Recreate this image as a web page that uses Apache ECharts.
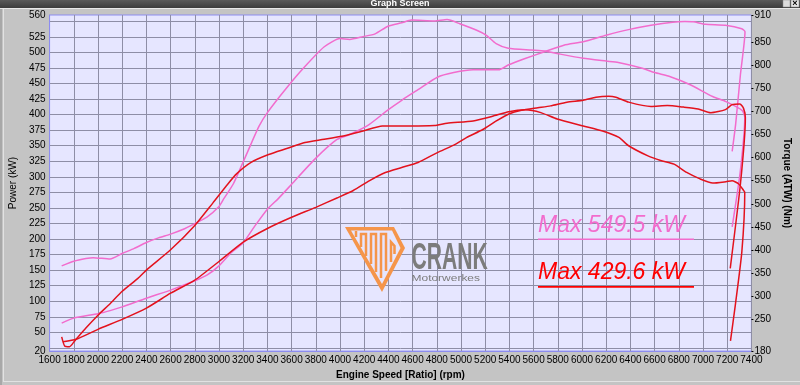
<!DOCTYPE html>
<html>
<head>
<meta charset="utf-8">
<script src="https://cdn.jsdelivr.net/npm/echarts@6/dist/echarts.min.js"></script>
<style>
html,body{margin:0;padding:0;background:#c4c4c4;}
#c{width:800px;height:385px;}
</style>
</head>
<body>
<div id="c"></div>
<script>
// ---- data (rpm, value) ----
var pinkPower = [[1700,65],[1800,73],[2000,80],[2100,85],[2200,91],[2400,105],[2600,118],[2800,133],[2900,142],[3000,157],[3100,178],[3200,194],[3300,222],[3400,248],[3490,265],[3600,288],[3790,328],[3975,360],[4080,368],[4240,384],[4400,408],[4510,423],[4645,440],[4805,460],[4940,467.5],[5100,472],[5310,472],[5395,480],[5530,490],[5690,501],[5850,511.5],[6010,517],[6200,527.5],[6385,536.5],[6570,543.5],[6750,548.5],[6850,549.5],[6920,549],[7020,545],[7185,543.5],[7320,538],[7347,533],[7309,464],[7270,385],[7241,341]];
var pinkTorque = [[1700,365],[1800,375],[1900,381],[1960,383],[2100,380],[2200,392],[2300,403],[2400,416],[2500,426],[2600,434],[2700,444],[2800,457],[2900,471],[3000,494],[3040,511],[3120,544],[3240,615],[3330,668],[3400,698],[3560,752],[3710,798],[3870,841],[4000,859],[4080,857],[4190,863],[4290,869],[4400,886],[4510,893],[4590,899],[4780,897],[4885,900],[4990,891],[5130,877],[5210,866],[5290,848],[5390,838],[5580,834],[5690,832],[5820,825],[6010,816],[6200,810],[6300,807],[6490,795],[6600,785],[6730,776],[6890,759],[7080,733],[7190,722],[7323,703],[7345,688],[7307,568],[7241,450]];
var redPower = [[1711,35],[1820,39],[2000,55],[2200,71],[2400,89],[2600,113],[2800,134],[3000,164],[3200,195],[3400,217],[3600,235],[3800,251],[3975,266],[4110,278],[4245,294],[4375,307],[4510,315],[4645,323],[4805,339],[4940,351],[5045,363],[5180,376],[5285,389],[5395,401],[5500,407],[5635,411],[5740,414],[5875,420],[6010,423],[6115,428],[6220,429.6],[6280,428],[6385,420],[6570,413],[6705,414.5],[6840,412],[6960,409],[7065,403],[7185,408],[7240,416],[7305,417],[7335,410],[7350,395],[7310,290],[7225,153]];
var redTorque = [[1700,211],[1725,191],[1765,189.5],[1806,201.6],[1900,230],[2000,258],[2100,283],[2200,310],[2330,338],[2400,356],[2600,400],[2800,453],[2950,502],[3070,542],[3145,565],[3265,590],[3410,607],[3560,620],[3710,633],[3870,640],[4055,649],[4190,658],[4350,669],[4510,669],[4780,670],[4885,675],[5100,680],[5260,690],[5395,700],[5530,704],[5660,698],[5795,684],[6010,669],[6170,658],[6305,644],[6385,626],[6545,604],[6650,594],[6760,586],[6865,568],[6975,554],[7080,545],[7190,548],[7240,550],[7295,543],[7335,529],[7345,525],[7321,396],[7267,280],[7227,202]];
var powerLabels = [20,50,75,100,125,150,175,200,225,250,275,300,325,350,375,400,425,450,475,500,525,560];
var powerGrid = [25,50,75,100,125,150,175,200,225,250,275,300,325,350,375,400,425,450,475,500,525,550];
var torqueLabels = [180,250,300,350,400,450,500,550,600,650,700,750,800,850,910];
var maxPink = 'Max 549.5 kW';
var maxRed = 'Max 429.6 kW';

var FONT = 'Liberation Sans, Arial, sans-serif';
var PINK = '#f26ccd';
var RED = '#e3121d';
var ORANGE = '#f5954a';

var chart = echarts.init(document.getElementById('c'), null, {renderer:'canvas'});

function line(data, color, yi, z){
  return {type:'line', data:data, yAxisIndex:yi, showSymbol:false, smooth:0.2, z:z,
    lineStyle:{color:color, width:1.5}, itemStyle:{color:color}, animation:false};
}
function plain(v){ return String(v); }

var option = {
  backgroundColor:'#c4c4c4',
  animation:false,
  grid:{left:38, right:40, top:15, bottom:31.5, show:true, backgroundColor:'#e6e6ff', borderColor:'#8c8cf0', borderWidth:1},
  xAxis:{type:'value', min:1600, max:7400, interval:200,
    axisLine:{show:true, lineStyle:{color:'#8c8cf0'}},
    axisTick:{show:false},
    axisLabel:{fontSize:10, color:'#000', margin:4, fontFamily:FONT, showMinLabel:true, showMaxLabel:true, hideOverlap:false, formatter:plain},
    splitLine:{show:true, lineStyle:{color:'#8e8ea6', width:1}},
    name:'Engine Speed [Ratio] (rpm)', nameLocation:'middle', nameGap:16,
    nameTextStyle:{fontSize:10, fontWeight:'bold', color:'#000', fontFamily:FONT}
  },
  yAxis:[
    {type:'value', position:'left', min:20, max:560,
     axisLine:{show:true, lineStyle:{color:'#8c8cf0'}},
     axisTick:{show:false, customValues:powerGrid},
     axisLabel:{fontSize:10, color:'#000', margin:4, fontFamily:FONT, customValues:powerLabels, formatter:plain},
     splitLine:{show:true, lineStyle:{color:'#8e8ea6', width:1}},
     name:'Power (kW)', nameLocation:'middle', nameGap:26,
     nameTextStyle:{fontSize:10, color:'#000', fontFamily:FONT}
    },
    {type:'value', position:'right', min:180, max:910,
     axisLine:{show:false},
     axisTick:{show:true, length:2, lineStyle:{color:'#000'}, customValues:torqueLabels},
     axisLabel:{fontSize:10, color:'#000', margin:3, fontFamily:FONT, customValues:torqueLabels, formatter:plain},
     splitLine:{show:false},
     name:'Torque (ATW) (Nm)', nameLocation:'middle', nameRotate:-90, nameGap:26,
     nameTextStyle:{fontSize:10, fontWeight:'bold', color:'#000', fontFamily:FONT}
    }
  ],
  series:[
    line(pinkTorque, PINK, 1, 3),
    line(pinkPower, PINK, 0, 3),
    line(redTorque, RED, 1, 4),
    line(redPower, RED, 0, 4)
  ],
  graphic:[
    // window frame
    {type:'rect', shape:{x:0,y:9,width:2,height:376}, style:{fill:'#a8a8a8'}, z:1},
    {type:'rect', shape:{x:3,y:9,width:1,height:372}, style:{fill:'#e2e2e2'}, z:1},
    {type:'rect', shape:{x:3,y:381,width:797,height:1}, style:{fill:'#e2e2e2'}, z:1},
    // window title bar
    {type:'rect', shape:{x:0,y:0,width:800,height:8}, style:{fill:new echarts.graphic.LinearGradient(0,0,0,1,[{offset:0,color:'#5a5a5a'},{offset:1,color:'#3c3c3c'}])}, z:10},
    {type:'rect', shape:{x:0,y:8,width:800,height:1}, style:{fill:'#e8e8e8'}, z:10},
    {type:'text', x:400, y:4, style:{text:'Graph Screen', fill:'#fff', font:'bold 9px '+FONT, textAlign:'center', textVerticalAlign:'middle'}, z:11},
    {type:'rect', shape:{x:783,y:0,width:7,height:7}, style:{fill:'#dcdcdc', stroke:'#888', lineWidth:0.5}, z:11},
    {type:'rect', shape:{x:791,y:0,width:8,height:7}, style:{fill:'#e8e8e8', stroke:'#888', lineWidth:0.5}, z:11},
    {type:'text', x:795, y:3.5, style:{text:'×', fill:'#000', font:'bold 9px '+FONT, textAlign:'center', textVerticalAlign:'middle'}, z:12},
    // logo
    {type:'polygon', shape:{points:[[345,227],[394,227],[405,248],[382,292]]}, style:{fill:ORANGE}, z:5},
    {type:'polygon', shape:{points:[[351,230.5],[392,230.5],[400.5,248],[382,284]]}, style:{fill:'#e6e6ff'}, z:5},
    {type:'polyline', shape:{points:[[356,231],[356,237]]}, style:{stroke:ORANGE, lineWidth:2.5}, z:6},
    {type:'polyline', shape:{points:[[361,247],[361,234],[366,234],[366,256]]}, style:{stroke:ORANGE, lineWidth:2.5}, z:6},
    {type:'polyline', shape:{points:[[371,264],[371,234],[376,234],[376,272]]}, style:{stroke:ORANGE, lineWidth:2.5}, z:6},
    {type:'polyline', shape:{points:[[381,278],[381,234],[386,234],[386,271]]}, style:{stroke:ORANGE, lineWidth:2.5}, z:6},
    {type:'polyline', shape:{points:[[391,262],[391,242],[394.5,246],[394.5,254]]}, style:{stroke:ORANGE, lineWidth:2.5}, z:6},
    {type:'text', x:411.5, y:258.5, scaleX:0.57, style:{text:'CRANK', fill:'#7c7c7c', font:'bold 37px '+FONT, textAlign:'left', textVerticalAlign:'middle'}, z:6},
    {type:'text', x:411.5, y:278.5, scaleX:1.33, style:{text:'Motorwerkes', fill:'#7c7c7c', font:'9px '+FONT, textAlign:'left', textVerticalAlign:'middle'}, z:6},
    // max labels
    {type:'text', x:538, y:237.5, style:{text:maxPink, fill:PINK, font:'italic 23px '+FONT, textAlign:'left', textVerticalAlign:'bottom'}, z:7},
    {type:'rect', shape:{x:538,y:238.5,width:156,height:1.6}, style:{fill:PINK}, z:7},
    {type:'text', x:538, y:284.5, style:{text:maxRed, fill:'#f00', font:'italic 23px '+FONT, textAlign:'left', textVerticalAlign:'bottom'}, z:7},
    {type:'rect', shape:{x:538,y:286,width:156,height:1.8}, style:{fill:'#f00'}, z:7}
  ]
};
chart.setOption(option);
</script>
</body>
</html>
